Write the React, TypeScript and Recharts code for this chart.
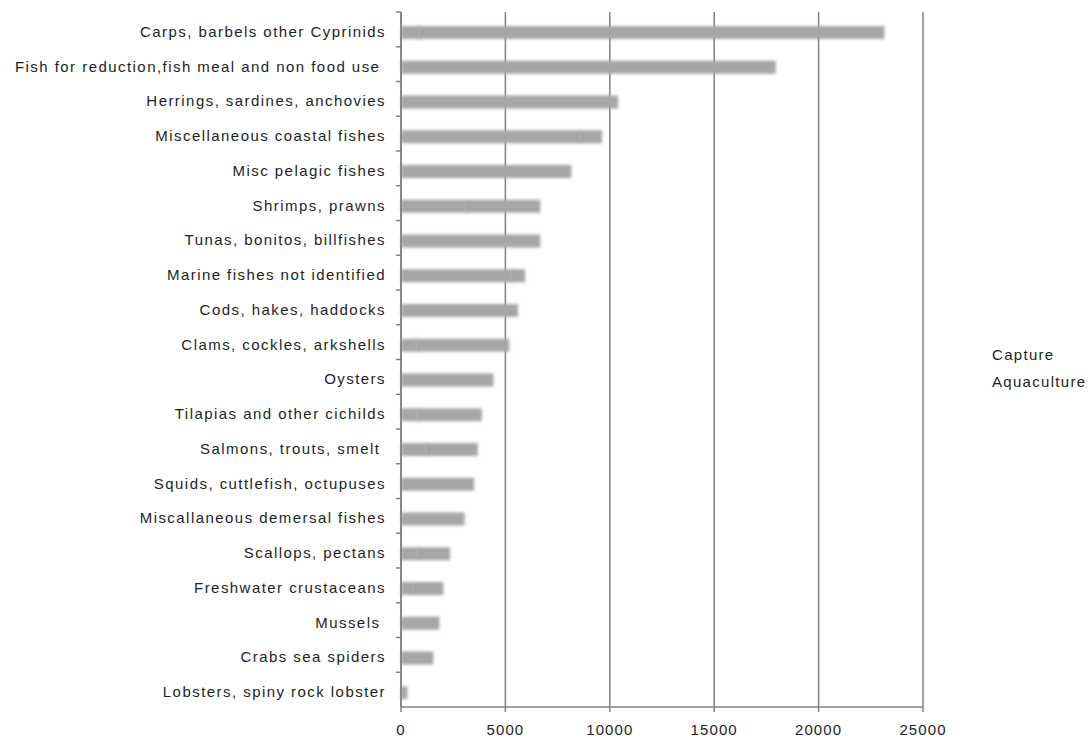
import React from 'react';
import { BarChart, Bar, XAxis, YAxis, CartesianGrid } from 'recharts';

// World fish production by species group (thousand tonnes), split by source
const categories = [
  'Carps, barbels other Cyprinids',
  'Fish for reduction,fish meal and non food use ',
  'Herrings, sardines, anchovies',
  'Miscellaneous coastal fishes',
  'Misc pelagic fishes',
  'Shrimps, prawns',
  'Tunas, bonitos, billfishes',
  'Marine fishes not identified',
  'Cods, hakes, haddocks',
  'Clams, cockles, arkshells',
  'Oysters',
  'Tilapias and other cichilds',
  'Salmons, trouts, smelt ',
  'Squids, cuttlefish, octupuses',
  'Miscallaneous demersal fishes',
  'Scallops, pectans',
  'Freshwater crustaceans',
  'Mussels ',
  'Crabs sea spiders',
  'Lobsters, spiny rock lobster',
];

const captureValues = [
  880, 17950, 10400, 8590, 8160, 3150, 6670, 5310, 5600, 750,
  0, 800, 1230, 3500, 3040, 830, 580, 0, 1550, 300,
];

const aquacultureValues = [
  22270, 0, 0, 1040, 0, 3520, 0, 640, 0, 4430,
  4430, 3070, 2450, 0, 0, 1520, 1450, 1840, 0, 0,
];

const seriesNames = ['Capture', 'Aquaculture'];

const xTicks = [0, 5000, 10000, 15000, 20000, 25000];

const data = categories.map((name, i) => ({
  name,
  capture: captureValues[i],
  aquaculture: aquacultureValues[i],
}));

const FONT = '"Liberation Sans", Arial, sans-serif';
const TEXT = '#1e1e1e';
const AXIS = '#808080';
const BAR_FILL = '#a6a6a6';
const PLOT_TOP = 12;
const PLOT_BOTTOM = 707;
const BAND = (PLOT_BOTTOM - PLOT_TOP) / categories.length;

// Soft grey bar segment; the second segment marks its seam with a thin darker line
const SoftBar = (props: any) => {
  const { x, y, width, height, payload, dataKey } = props;
  if (!width || width <= 0) return null;
  const showSeam = dataKey === 'aquaculture' && payload && payload.capture > 0;
  const yy = y + 3;
  return (
    <g style={{ filter: 'blur(1.4px)' }}>
      <rect x={x} y={yy} width={width} height={height} fill={BAR_FILL} />
      {showSeam && (
        <line x1={x} x2={x} y1={yy} y2={yy + height} stroke="#8f8f8f" strokeWidth={1.6} />
      )}
    </g>
  );
};

// Category label plus a tick mark on the boundary above each category
const CategoryTick = (props: any) => {
  const { x, y, payload } = props;
  return (
    <g>
      <line x1={x} x2={x + 5} y1={y - BAND / 2} y2={y - BAND / 2} stroke={AXIS} strokeWidth={1.5} />
      <text
        x={x - 10}
        y={y + 2}
        textAnchor="end"
        dominantBaseline="central"
        fill={TEXT}
        fontSize={15}
        fontFamily={FONT}
        letterSpacing={1.45}
        style={{ whiteSpace: 'pre' }}
      >
        {payload.value}
      </text>
    </g>
  );
};

export default function App() {
  return (
    <div style={{ position: 'absolute', left: 0, top: 0, width: 1090, height: 738, background: '#fff' }}>
      <BarChart
        width={1090}
        height={738}
        layout="vertical"
        data={data}
        margin={{ top: PLOT_TOP, right: 167, bottom: 6, left: 0 }}
        barSize={13}
      >
        <CartesianGrid horizontal={false} vertical stroke={AXIS} strokeWidth={1.5} />
        <XAxis
          type="number"
          domain={[0, 25000]}
          ticks={xTicks}
          height={25}
          tickSize={5}
          tickMargin={12}
          axisLine={{ stroke: AXIS, strokeWidth: 1.5 }}
          tickLine={{ stroke: AXIS, strokeWidth: 1.5 }}
          tick={{ fill: TEXT, fontSize: 15, fontFamily: FONT, letterSpacing: 1.1 }}
        />
        <YAxis
          type="category"
          dataKey="name"
          width={401}
          interval={0}
          tickSize={5}
          tickMargin={0}
          tickLine={false}
          axisLine={{ stroke: AXIS, strokeWidth: 1.5 }}
          tick={<CategoryTick />}
        />
        <Bar dataKey="capture" name={seriesNames[0]} stackId="a" fill={BAR_FILL} shape={<SoftBar />} isAnimationActive={false} />
        <Bar dataKey="aquaculture" name={seriesNames[1]} stackId="a" fill={BAR_FILL} shape={<SoftBar />} isAnimationActive={false} />
      </BarChart>
      <div
        style={{
          position: 'absolute',
          left: 992,
          top: 341,
          fontFamily: FONT,
          fontSize: 15,
          color: TEXT,
          letterSpacing: 1.3,
          lineHeight: '27px',
          whiteSpace: 'nowrap',
        }}
      >
        {seriesNames.map((n) => (
          <div key={n}>{n}</div>
        ))}
      </div>
    </div>
  );
}
